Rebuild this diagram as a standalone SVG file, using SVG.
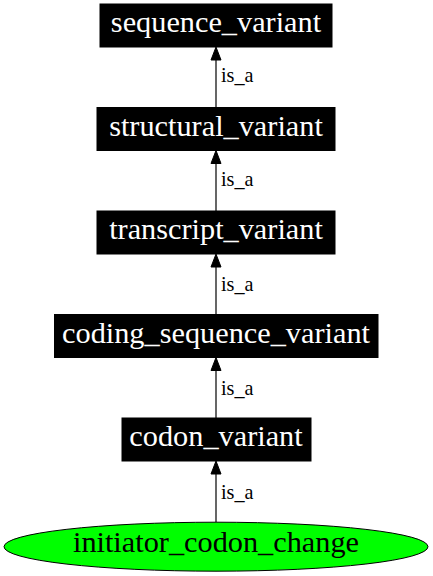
<svg xmlns="http://www.w3.org/2000/svg" width="433" height="576" viewBox="0 0 433 576">
<style>
.box{fill:#000;stroke:#000;stroke-width:1}
.nt{font-family:"Liberation Serif","Times New Roman",serif;font-size:30.3px;fill:#fff;text-anchor:middle}
.et{font-family:"Liberation Serif","Times New Roman",serif;font-size:20.2px;fill:#000}
.edge{stroke:#000;stroke-width:1.2;fill:none}
.ah{fill:#000;stroke:#000;stroke-width:1}
</style>
<rect width="433" height="576" fill="#fff"/>
<g id="edges">
<g id="e1"><line class="edge" x1="216" y1="107.5" x2="216" y2="60"/><polygon class="ah" points="216,47 221,60 211,60"/><text class="et" x="221" y="82">is_a</text></g>
<g id="e2"><line class="edge" x1="216" y1="211" x2="216" y2="163.5"/><polygon class="ah" points="216,150.5 221,163.5 211,163.5"/><text class="et" x="221" y="186">is_a</text></g>
<g id="e3"><line class="edge" x1="216" y1="314.5" x2="216" y2="267"/><polygon class="ah" points="216,254 221,267 211,267"/><text class="et" x="221" y="291">is_a</text></g>
<g id="e4"><line class="edge" x1="216" y1="418" x2="216" y2="370.5"/><polygon class="ah" points="216,357.5 221,370.5 211,370.5"/><text class="et" x="221" y="395">is_a</text></g>
<g id="e5"><line class="edge" x1="216" y1="522" x2="216" y2="474"/><polygon class="ah" points="216,461 221,474 211,474"/><text class="et" x="221" y="499">is_a</text></g>
</g>
<g id="sequence_variant"><rect class="box" x="100" y="4" width="232" height="43"/><text class="nt" x="216" y="32.2">sequence_variant</text></g>
<g id="structural_variant"><rect class="box" x="97" y="107.5" width="238" height="43"/><text class="nt" x="216" y="135.7">structural_variant</text></g>
<g id="transcript_variant"><rect class="box" x="97" y="211" width="238" height="43"/><text class="nt" x="216" y="239.2">transcript_variant</text></g>
<g id="coding_sequence_variant"><rect class="box" x="54.5" y="314.5" width="323.5" height="43"/><text class="nt" x="216" y="342.7">coding_sequence_variant</text></g>
<g id="codon_variant"><rect class="box" x="122" y="418" width="189" height="43"/><text class="nt" x="216" y="446.2">codon_variant</text></g>
<g id="initiator_codon_change"><ellipse cx="216" cy="546.7" rx="212" ry="24.5" fill="#00ff00" stroke="#000" stroke-width="1"/><text class="nt" x="216" y="551.7" style="fill:#000">initiator_codon_change</text></g>
</svg>
